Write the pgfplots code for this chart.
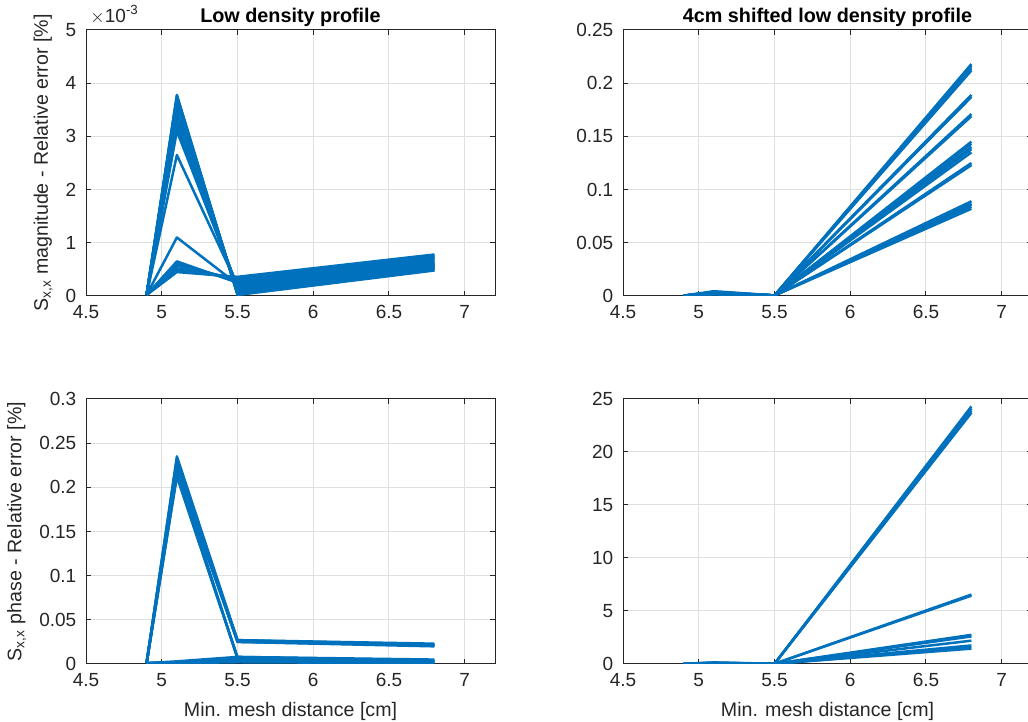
\documentclass[border=0pt]{standalone}
\usepackage{fontspec}
\setmainfont{Liberation Sans}
\usepackage{pgfplots}
\pgfplotsset{compat=1.18}
\definecolor{mblue}{HTML}{0072BD}
\definecolor{axgray}{HTML}{262626}
\definecolor{gridgray}{HTML}{DFDFDF}
\pgfplotsset{
  mstyle/.style={
    scale only axis,
    width=204.5pt,
    xmin=4.5, xmax=7.2,
    xtick={4.5,5,5.5,6,6.5,7},
    xticklabels={4.5,5,5.5,6,6.5,7},
    ymin=0,
    grid=major,
    major grid style={gridgray, line width=0.5pt},
    axis line style={axgray, line width=0.5pt},
    tick style={axgray, line width=0.5pt},
    major tick length=2.5pt,
    tick align=inside,
    ticklabel style={font=\fontsize{9.5}{10}\selectfont, text=axgray},
    xticklabel style={yshift=-1.5pt},
    yticklabel style={xshift=-1.5pt},
    label style={font=\fontsize{9.8}{10}\selectfont, text=axgray},
    xlabel style={yshift=-1pt},
    every axis title/.style={at={(0.5,1)}, anchor=south, yshift=-1.5pt,
      font=\fontsize{9.9}{10}\selectfont\bfseries, text=black},
    /pgf/number format/assume math mode=true,
    scaled y ticks=false,
    cycle list={mblue\\},
    every axis plot/.append style={mblue, line width=1.25pt, line join=round, mark=none},
    clip mode=individual,
  }
}
\begin{document}
\fontsize{9.5}{10}\selectfont
\begin{tikzpicture}[x=1pt,y=1pt]
\useasboundingbox (0,0) rectangle (514,361);
% ---------------- top left ----------------
\begin{axis}[mstyle, at={(43pt,213pt)}, anchor=south west, height=133pt,
  ymax=0.005, ytick={0,0.001,0.002,0.003,0.004,0.005}, yticklabels={0,1,2,3,4,5},
  title={Low density profile},
  ylabel={S\textsubscript{x,x} magnitude - Relative error [\%]}]
\addplot coordinates {(4.9,0.00002)(5.1,0.00378)(5.5,0.00002)(6.8,0.00048)};
\addplot coordinates {(4.9,0.00002)(5.1,0.00376)(5.5,0.00003)(6.8,0.00049)};
\addplot coordinates {(4.9,0.00002)(5.1,0.00373)(5.5,0.00004)(6.8,0.00050)};
\addplot coordinates {(4.9,0.00002)(5.1,0.00370)(5.5,0.00005)(6.8,0.00051)};
\addplot coordinates {(4.9,0.00002)(5.1,0.00365)(5.5,0.00006)(6.8,0.00052)};
\addplot coordinates {(4.9,0.00002)(5.1,0.00360)(5.5,0.00007)(6.8,0.00053)};
\addplot coordinates {(4.9,0.00002)(5.1,0.00355)(5.5,0.00008)(6.8,0.00054)};
\addplot coordinates {(4.9,0.00002)(5.1,0.00350)(5.5,0.00009)(6.8,0.00055)};
\addplot coordinates {(4.9,0.00002)(5.1,0.00345)(5.5,0.00010)(6.8,0.00056)};
\addplot coordinates {(4.9,0.00002)(5.1,0.00340)(5.5,0.00011)(6.8,0.00057)};
\addplot coordinates {(4.9,0.00002)(5.1,0.00335)(5.5,0.00012)(6.8,0.00058)};
\addplot coordinates {(4.9,0.00002)(5.1,0.00330)(5.5,0.00013)(6.8,0.00059)};
\addplot coordinates {(4.9,0.00002)(5.1,0.00325)(5.5,0.00014)(6.8,0.00060)};
\addplot coordinates {(4.9,0.00002)(5.1,0.00320)(5.5,0.00015)(6.8,0.00061)};
\addplot coordinates {(4.9,0.00002)(5.1,0.00315)(5.5,0.00016)(6.8,0.00062)};
\addplot coordinates {(4.9,0.00002)(5.1,0.00310)(5.5,0.00018)(6.8,0.00063)};
\addplot coordinates {(4.9,0.00002)(5.1,0.00265)(5.5,0.00020)(6.8,0.00065)};
\addplot coordinates {(4.9,0.00002)(5.1,0.00110)(5.5,0.00022)(6.8,0.00067)};
\addplot coordinates {(4.9,0.00002)(5.1,0.00065)(5.5,0.00025)(6.8,0.00069)};
\addplot coordinates {(4.9,0.00002)(5.1,0.00062)(5.5,0.00027)(6.8,0.00071)};
\addplot coordinates {(4.9,0.00002)(5.1,0.00060)(5.5,0.00029)(6.8,0.00072)};
\addplot coordinates {(4.9,0.00002)(5.1,0.00057)(5.5,0.00031)(6.8,0.00074)};
\addplot coordinates {(4.9,0.00002)(5.1,0.00052)(5.5,0.00033)(6.8,0.00075)};
\addplot coordinates {(4.9,0.00002)(5.1,0.00048)(5.5,0.00034)(6.8,0.00077)};
\addplot coordinates {(4.9,0.00002)(5.1,0.00045)(5.5,0.00036)(6.8,0.00078)};
\node[anchor=south west, inner sep=0pt, text=axgray, font=\fontsize{9.5}{10}\selectfont] at (rel axis cs:0.01,1.02) {$\times$10\textsuperscript{-3}};
\end{axis}
% ---------------- top right ----------------
\begin{axis}[mstyle, at={(311.5pt,213pt)}, anchor=south west, height=133pt,
  ymax=0.25, ytick={0,0.05,0.1,0.15,0.2,0.25}, yticklabels={0,0.05,0.1,0.15,0.2,0.25},
  title={4cm shifted low density profile}]
\addplot coordinates {(4.9,0.0003)(5.1,0.0045)(5.5,0.0005)(6.8,0.218)};
\addplot coordinates {(4.9,0.0003)(5.1,0.0040)(5.5,0.0005)(6.8,0.216)};
\addplot coordinates {(4.9,0.0003)(5.1,0.0035)(5.5,0.0005)(6.8,0.214)};
\addplot coordinates {(4.9,0.0003)(5.1,0.0030)(5.5,0.0005)(6.8,0.212)};
\addplot coordinates {(4.9,0.0003)(5.1,0.0025)(5.5,0.0005)(6.8,0.189)};
\addplot coordinates {(4.9,0.0003)(5.1,0.0020)(5.5,0.0005)(6.8,0.187)};
\addplot coordinates {(4.9,0.0003)(5.1,0.0030)(5.5,0.0005)(6.8,0.171)};
\addplot coordinates {(4.9,0.0003)(5.1,0.0025)(5.5,0.0005)(6.8,0.169)};
\addplot coordinates {(4.9,0.0003)(5.1,0.0035)(5.5,0.0005)(6.8,0.145)};
\addplot coordinates {(4.9,0.0003)(5.1,0.0030)(5.5,0.0005)(6.8,0.143)};
\addplot coordinates {(4.9,0.0003)(5.1,0.0025)(5.5,0.0005)(6.8,0.140)};
\addplot coordinates {(4.9,0.0003)(5.1,0.0020)(5.5,0.0005)(6.8,0.138)};
\addplot coordinates {(4.9,0.0003)(5.1,0.0030)(5.5,0.0005)(6.8,0.135)};
\addplot coordinates {(4.9,0.0003)(5.1,0.0025)(5.5,0.0005)(6.8,0.125)};
\addplot coordinates {(4.9,0.0003)(5.1,0.0020)(5.5,0.0005)(6.8,0.123)};
\addplot coordinates {(4.9,0.0003)(5.1,0.0035)(5.5,0.0005)(6.8,0.089)};
\addplot coordinates {(4.9,0.0003)(5.1,0.0030)(5.5,0.0005)(6.8,0.087)};
\addplot coordinates {(4.9,0.0003)(5.1,0.0025)(5.5,0.0005)(6.8,0.086)};
\addplot coordinates {(4.9,0.0003)(5.1,0.0020)(5.5,0.0005)(6.8,0.084)};
\addplot coordinates {(4.9,0.0003)(5.1,0.0015)(5.5,0.0005)(6.8,0.082)};
\end{axis}
% ---------------- bottom left ----------------
\begin{axis}[mstyle, at={(43pt,29pt)}, anchor=south west, height=132.5pt,
  ymax=0.3, ytick={0,0.05,0.1,0.15,0.2,0.25,0.3}, yticklabels={0,0.05,0.1,0.15,0.2,0.25,0.3},
  xlabel={Min. mesh distance [cm]},
  ylabel={S\textsubscript{x,x} phase - Relative error [\%]}]
\addplot coordinates {(4.9,0.001)(5.1,0.235)(5.5,0.027)(6.8,0.023)};
\addplot coordinates {(4.9,0.001)(5.1,0.232)(5.5,0.026)(6.8,0.022)};
\addplot coordinates {(4.9,0.001)(5.1,0.229)(5.5,0.025)(6.8,0.021)};
\addplot coordinates {(4.9,0.001)(5.1,0.226)(5.5,0.027)(6.8,0.022)};
\addplot coordinates {(4.9,0.001)(5.1,0.222)(5.5,0.025)(6.8,0.020)};
\addplot coordinates {(4.9,0.001)(5.1,0.218)(5.5,0.026)(6.8,0.021)};
\addplot coordinates {(4.9,0.001)(5.1,0.214)(5.5,0.008)(6.8,0.004)};
\addplot coordinates {(4.9,0.001)(5.1,0.212)(5.5,0.007)(6.8,0.003)};
\addplot coordinates {(4.9,0.001)(5.1,0.220)(5.5,0.006)(6.8,0.002)};
\addplot coordinates {(4.9,0.001)(5.1,0.003)(5.5,0.008)(6.8,0.005)};
\addplot coordinates {(4.9,0.001)(5.1,0.002)(5.5,0.006)(6.8,0.003)};
\addplot coordinates {(4.9,0.001)(5.1,0.002)(5.5,0.004)(6.8,0.002)};
\addplot coordinates {(4.9,0.001)(5.1,0.001)(5.5,0.002)(6.8,0.001)};
\end{axis}
% ---------------- bottom right ----------------
\begin{axis}[mstyle, at={(311.5pt,29pt)}, anchor=south west, height=132.5pt,
  ymax=25, ytick={0,5,10,15,20,25}, yticklabels={0,5,10,15,20,25},
  xlabel={Min. mesh distance [cm]}]
\addplot coordinates {(4.9,0.02)(5.1,0.15)(5.5,0.02)(6.8,24.3)};
\addplot coordinates {(4.9,0.02)(5.1,0.12)(5.5,0.02)(6.8,24.1)};
\addplot coordinates {(4.9,0.02)(5.1,0.10)(5.5,0.02)(6.8,23.9)};
\addplot coordinates {(4.9,0.02)(5.1,0.08)(5.5,0.02)(6.8,23.7)};
\addplot coordinates {(4.9,0.02)(5.1,0.10)(5.5,0.02)(6.8,6.55)};
\addplot coordinates {(4.9,0.02)(5.1,0.08)(5.5,0.02)(6.8,6.45)};
\addplot coordinates {(4.9,0.02)(5.1,0.06)(5.5,0.02)(6.8,2.75)};
\addplot coordinates {(4.9,0.02)(5.1,0.05)(5.5,0.02)(6.8,2.60)};
\addplot coordinates {(4.9,0.02)(5.1,0.05)(5.5,0.02)(6.8,2.20)};
\addplot coordinates {(4.9,0.02)(5.1,0.04)(5.5,0.02)(6.8,1.75)};
\addplot coordinates {(4.9,0.02)(5.1,0.04)(5.5,0.02)(6.8,1.60)};
\addplot coordinates {(4.9,0.02)(5.1,0.03)(5.5,0.02)(6.8,1.45)};
\end{axis}
\end{tikzpicture}
\end{document}
